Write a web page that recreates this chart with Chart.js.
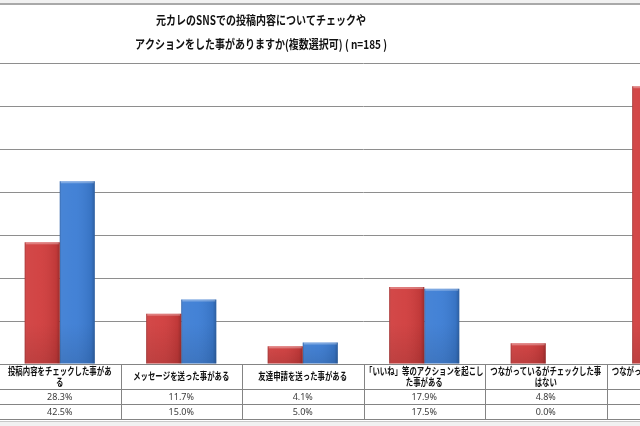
<!DOCTYPE html>
<html>
<head>
<meta charset="utf-8">
<script src="https://cdn.jsdelivr.net/npm/chart.js@4.4.1/dist/chart.umd.min.js"></script>
<style>
  html, body { margin: 0; padding: 0; background: #ffffff; }
  #wrap { position: relative; width: 640px; height: 426px; overflow: hidden; background: #ffffff; }
  #c { position: absolute; left: -41px; top: 0; }
  .xlTop { position: absolute; left: 0; top: 0; width: 640px; height: 3px; background: #f1f1f1; }
  .xlTopLine { position: absolute; left: 0; top: 3px; width: 640px; height: 2px; background: #a9a9a9; }
  .xlBotLine { position: absolute; left: 0; top: 421px; width: 640px; height: 1px; background: #c8c8c8; }
  .xlBot { position: absolute; left: 0; top: 422px; width: 640px; height: 4px; background: #f1f1f1; }
</style>
</head>
<body>
<div id="wrap">
  <canvas id="c" width="800" height="426"></canvas>
  <div class="xlTop"></div><div class="xlTopLine"></div>
  <div class="xlBotLine"></div><div class="xlBot"></div>
</div>
<script>
// ---- data ----
const titleLines = ["元カレのSNSでの投稿内容についてチェックや", "アクションをした事がありますか(複数選択可) ( n=185 )"];
const categoryLines = [
  ["投稿内容をチェックした事があ", "る"],
  ["メッセージを送った事がある"],
  ["友達申請を送った事がある"],
  ["「いいね」等のアクションを起こし", "た事がある"],
  ["つながっているがチェックした事", "はない"],
  ["つながっていないのでチェックし", "た事はない"]
];
const categories = categoryLines.map(l => l.join(""));
const seriesNames = ["系列1", "系列2"];
const seriesRed = [28.3, 11.7, 4.1, 17.9, 4.8, 64.6];
const seriesBlue = [42.5, 15.0, 5.0, 17.5, 0.0, 40.0];
const yTicks = [0, 10, 20, 30, 40, 50, 60, 70];

const JP = '"Noto Sans CJK JP", "Noto Sans", sans-serif';

// bevel shading over bars (uses bar element geometry from Chart.js)
const bevelPlugin = {
  id: 'bevel',
  afterDatasetsDraw(chart) {
    const ctx = chart.ctx;
    chart.data.datasets.forEach((ds, di) => {
      const meta = chart.getDatasetMeta(di);
      meta.data.forEach(el => {
        const h = el.base - el.y;
        if (h < 1) return;
        const l = el.x - el.width / 2, r = el.x + el.width / 2;
        ctx.save();
        const g = ctx.createLinearGradient(l, 0, r, 0);
        g.addColorStop(0, 'rgba(0,0,0,0.22)');
        g.addColorStop(0.06, 'rgba(255,255,255,0.06)');
        g.addColorStop(0.45, 'rgba(255,255,255,0.04)');
        g.addColorStop(0.9, 'rgba(0,0,0,0.08)');
        g.addColorStop(1, 'rgba(0,0,0,0.25)');
        ctx.fillStyle = g;
        ctx.fillRect(l, el.y, r - l, h);
        ctx.fillStyle = 'rgba(255,255,255,0.30)';
        ctx.fillRect(l + 1, el.y, r - l - 2, Math.min(2, h));
        const gb = ctx.createLinearGradient(0, el.base - Math.min(40, h), 0, el.base);
        gb.addColorStop(0, 'rgba(0,0,0,0)');
        gb.addColorStop(1, 'rgba(0,0,0,0.10)');
        ctx.fillStyle = gb;
        ctx.fillRect(l, el.base - Math.min(40, h), r - l, Math.min(40, h));
        ctx.restore();
      });
    });
  }
};

// Excel-style data table under the plot + title
const tablePlugin = {
  id: 'dataTable',
  afterDraw(chart) {
    const ctx = chart.ctx;
    const xs = chart.scales.x;
    const area = chart.chartArea;
    const n = categories.length;
    const cw = (area.right - area.left) / n;
    const top = area.bottom;
    const rows = [25, 15, 15];
    const y1 = top + rows[0], y2 = y1 + rows[1], y3 = y2 + rows[2];
    ctx.save();
    ctx.strokeStyle = '#848484';
    ctx.lineWidth = 1;
    [top, y1, y2, y3].forEach((y) => {
      ctx.beginPath();
      ctx.moveTo(0, Math.round(y) + 0.5);
      ctx.lineTo(chart.width, Math.round(y) + 0.5);
      ctx.stroke();
    });
    for (let i = 0; i <= n; i++) {
      const x = Math.round(area.left + i * cw) + 0.5;
      ctx.beginPath();
      ctx.moveTo(x, top);
      ctx.lineTo(x, y3);
      ctx.stroke();
    }
    // category labels
    ctx.fillStyle = '#111111';
    ctx.textAlign = 'center';
    ctx.textBaseline = 'middle';
    ctx.font = 'bold 10px ' + JP;
    categoryLines.forEach((lines, i) => {
      const cx = xs.getPixelForValue(i);
      const cy = top + rows[0] / 2;
      const lh = 11;
      lines.forEach((t, k) => {
        const y = cy + (k - (lines.length - 1) / 2) * lh;
        const w = ctx.measureText(t).width;
        ctx.fillText(t, cx, y, w * 0.74);
      });
    });
    // value rows
    ctx.fillStyle = '#3a3a3a';
    ctx.font = '9px "Noto Sans", sans-serif';
    [seriesRed, seriesBlue].forEach((vals, r) => {
      const cy = (r === 0 ? y1 : y2) + rows[r + 1] / 2;
      vals.forEach((v, i) => {
        ctx.fillText(v.toFixed(1) + '%', xs.getPixelForValue(i), cy + 0.5);
      });
    });
    // title
    ctx.fillStyle = '#111111';
    ctx.font = 'bold 12.5px ' + JP;
    const tx = 302;
    const tw = [210, 252];
    titleLines.forEach((t, k) => {
      ctx.fillText(t, tx, 20 + k * 24, tw[k]);
    });
    ctx.restore();
  }
};

new Chart(document.getElementById('c'), {
  type: 'bar',
  data: {
    labels: categories,
    datasets: [
      { label: seriesNames[0], data: seriesRed, backgroundColor: '#d03d3d', borderWidth: 0,
        barPercentage: 1.0, categoryPercentage: 0.577 },
      { label: seriesNames[1], data: seriesBlue, backgroundColor: '#3c7dd4', borderWidth: 0,
        barPercentage: 1.0, categoryPercentage: 0.577 }
    ]
  },
  options: {
    responsive: false,
    animation: false,
    devicePixelRatio: 1,
    layout: { padding: { left: 40, right: 31, top: 63, bottom: 62 } },
    plugins: { legend: { display: false }, title: { display: false }, tooltip: { enabled: false } },
    scales: {
      x: { display: false },
      y: {
        min: yTicks[0], max: yTicks[yTicks.length - 1],
        afterBuildTicks: s => { s.ticks = yTicks.map(v => ({ value: v })); },
        afterFit: s => { s.width = 0; },
        ticks: { display: false },
        grid: { color: '#8e8e8e', lineWidth: 1, drawTicks: false },
        border: { display: false }
      }
    }
  },
  plugins: [bevelPlugin, tablePlugin]
});
</script>
</body>
</html>
